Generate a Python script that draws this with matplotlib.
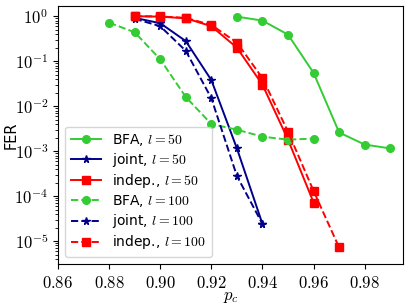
import matplotlib
matplotlib.use("Agg")
import matplotlib.pyplot as plt
from matplotlib.ticker import FuncFormatter, LogLocator, NullFormatter
import numpy as np

plt.rcParams['mathtext.fontset'] = 'cm'
plt.rcParams['font.family'] = ['DejaVu Sans']

# data
pc_bfa50 = [0.93, 0.94, 0.95, 0.96, 0.97, 0.98, 0.99]
fer_bfa50 = [0.98, 0.80, 0.39, 0.055, 0.0026, 0.0014, 0.00115]

pc_joint50 = [0.89, 0.90, 0.91, 0.92, 0.93, 0.94]
fer_joint50 = [0.92, 0.70, 0.28, 0.038, 0.00115, 2.4e-5]

pc_indep50 = [0.89, 0.90, 0.91, 0.92, 0.93, 0.94, 0.95, 0.96]
fer_indep50 = [1.0, 0.98, 0.90, 0.60, 0.20, 0.030, 0.0018, 7.2e-5]

pc_bfa100 = [0.88, 0.89, 0.90, 0.91, 0.92, 0.93, 0.94, 0.95, 0.96]
fer_bfa100 = [0.72, 0.44, 0.11, 0.016, 0.0040, 0.0030, 0.0021, 0.0018, 0.0019]

pc_joint100 = [0.89, 0.90, 0.91, 0.92, 0.93, 0.94]
fer_joint100 = [0.88, 0.60, 0.17, 0.015, 2.8e-4, 2.4e-5]

pc_indep100 = [0.89, 0.90, 0.91, 0.92, 0.93, 0.94, 0.95, 0.96, 0.97]
fer_indep100 = [1.0, 0.99, 0.92, 0.64, 0.26, 0.042, 0.0027, 1.3e-4, 7.2e-6]

x_ticks = [0.86, 0.88, 0.90, 0.92, 0.94, 0.96, 0.98]

green = '#33cc33'
navy = '#00008b'
red = '#ff0000'

fig = plt.figure(figsize=(4.1, 3.08), dpi=100)
ax = fig.add_axes([0.1415, 0.143, 0.8415, 0.836])

lw = 1.4
ax.plot(pc_bfa50, fer_bfa50, '-o', color=green, lw=lw, ms=5.5, label=r'BFA, $l=50$')
ax.plot(pc_joint50, fer_joint50, '-*', color=navy, lw=lw, ms=5.5, label=r'joint, $l=50$')
ax.plot(pc_indep50, fer_indep50, '-s', color=red, lw=lw, ms=5.5, label=r'indep., $l=50$')
ax.plot(pc_bfa100, fer_bfa100, '--o', color=green, lw=lw, ms=5.5, label=r'BFA, $l=100$')
ax.plot(pc_joint100, fer_joint100, '--*', color=navy, lw=lw, ms=5.5, label=r'joint, $l=100$')
ax.plot(pc_indep100, fer_indep100, '--s', color=red, lw=lw, ms=5.5, label=r'indep., $l=100$')

ax.set_yscale('log')
ax.set_xlim(0.86, 0.995)
ax.set_ylim(3.1e-6, 1.65)
ax.set_xticks(x_ticks)
ax.xaxis.set_major_formatter(FuncFormatter(lambda v, p: r'$%.2f$' % v))
ax.yaxis.set_major_locator(LogLocator(base=10, numticks=20))
ax.yaxis.set_major_formatter(FuncFormatter(lambda v, p: r'$10^{%d}$' % int(round(np.log10(v)))))
ax.yaxis.set_minor_locator(LogLocator(base=10, subs=np.arange(2, 10), numticks=20))
ax.yaxis.set_minor_formatter(NullFormatter())
ax.tick_params(labelsize=12)
ax.set_xlabel(r'$p_c$', fontsize=12)
ax.xaxis.set_label_coords(0.5, -0.09)
ax.set_ylabel('FER', fontsize=10.5)
ax.yaxis.set_label_coords(-0.115, 0.5)
ax.legend(loc='lower left', fontsize=10, handlelength=2.2, labelspacing=0.22,
          handletextpad=0.8, borderaxespad=0.5)

fig.savefig('out.png', dpi=100)
